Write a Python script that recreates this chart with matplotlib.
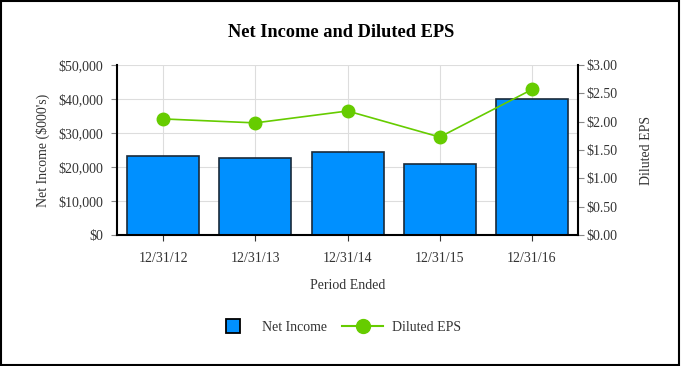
import matplotlib.pyplot as plt
import numpy as np
from matplotlib.lines import Line2D
from matplotlib.patches import Rectangle

periods = ['12/31/12', '12/31/13', '12/31/14', '12/31/15', '12/31/16']
net_income = [23200, 22550, 24300, 20800, 40000]
diluted_eps = [2.05, 1.98, 2.19, 1.73, 2.57]

plt.rcParams['font.family'] = ['Liberation Serif', 'DejaVu Serif']

fig = plt.figure(figsize=(6.82, 3.66), dpi=100)
ax = fig.add_axes([0.1716, 0.358, 0.676, 0.464])
ind = np.arange(len(periods))

ax.bar(ind, net_income, 0.78, color='#0090ff', edgecolor='#1a2a3a', linewidth=1.2, zorder=2)
ax.set_xlim(-0.5, len(periods) - 0.5)
ax.set_ylim(0, 50000)
ax.set_yticks(np.arange(0, 50001, 10000))
ax.set_yticklabels(['$0', '$10,000', '$20,000', '$30,000', '$40,000', '$50,000'])
ax.set_xticks(ind)
ax.set_xticklabels(periods)
ax.grid(True, color='#dddddd', linewidth=0.8, zorder=0)
ax.set_axisbelow(True)
ax.tick_params(labelsize=10, colors='#333333', length=4, pad=6)
ax.tick_params(axis='x', pad=8)
ax.tick_params(axis='y', color='#888888')
ax.set_ylabel("Net Income ($000's)", fontsize=10, labelpad=6, color='#333333')
ax.set_xlabel('Period Ended', fontsize=10, labelpad=10, color='#333333')
ax.spines['top'].set_visible(False)
ax.spines['left'].set_linewidth(1.5)
ax.spines['bottom'].set_linewidth(1.5)
ax.spines['right'].set_visible(False)

ax2 = ax.twinx()
ax2.plot(ind, diluted_eps, color='#66cc00', linewidth=1.2, marker='o', markersize=9, zorder=3)
ax2.set_ylim(0, 3.0)
ax2.set_yticks(np.arange(0, 3.01, 0.5))
ax2.set_yticklabels(['$%.2f' % v for v in np.arange(0, 3.01, 0.5)])
ax2.tick_params(labelsize=10, colors='#333333', length=4, pad=2)
ax2.tick_params(axis='y', color='#888888')
ax2.set_ylabel('Diluted EPS', fontsize=10, rotation=90, labelpad=16, color='#333333')
ax2.spines['top'].set_visible(False)
ax2.spines['left'].set_visible(False)
ax2.spines['bottom'].set_visible(False)
ax2.spines['right'].set_linewidth(1.5)

fig.suptitle('Net Income and Diluted EPS', fontsize=13.2, fontweight='bold', y=0.935)

handles = [
    Line2D([], [], linestyle='none', marker='s', markersize=10, markerfacecolor='#0090ff',
           markeredgecolor='black', markeredgewidth=1.3),
    Line2D([], [], color='#66cc00', linewidth=1.5, marker='o', markersize=10),
]
leg = fig.legend(handles, ['Net Income', 'Diluted EPS'], loc='center', bbox_to_anchor=(0.494, 0.105),
                 ncol=2, frameon=False, fontsize=10, handlelength=2.9, columnspacing=1.1,
                 handletextpad=0.65)
for t in leg.get_texts():
    t.set_color('#333333')

fig.patches.append(Rectangle((0.002, 0.003), 0.994, 0.993, transform=fig.transFigure,
                             fill=False, edgecolor='black', linewidth=1.5))

fig.savefig('out.png', dpi=100)
